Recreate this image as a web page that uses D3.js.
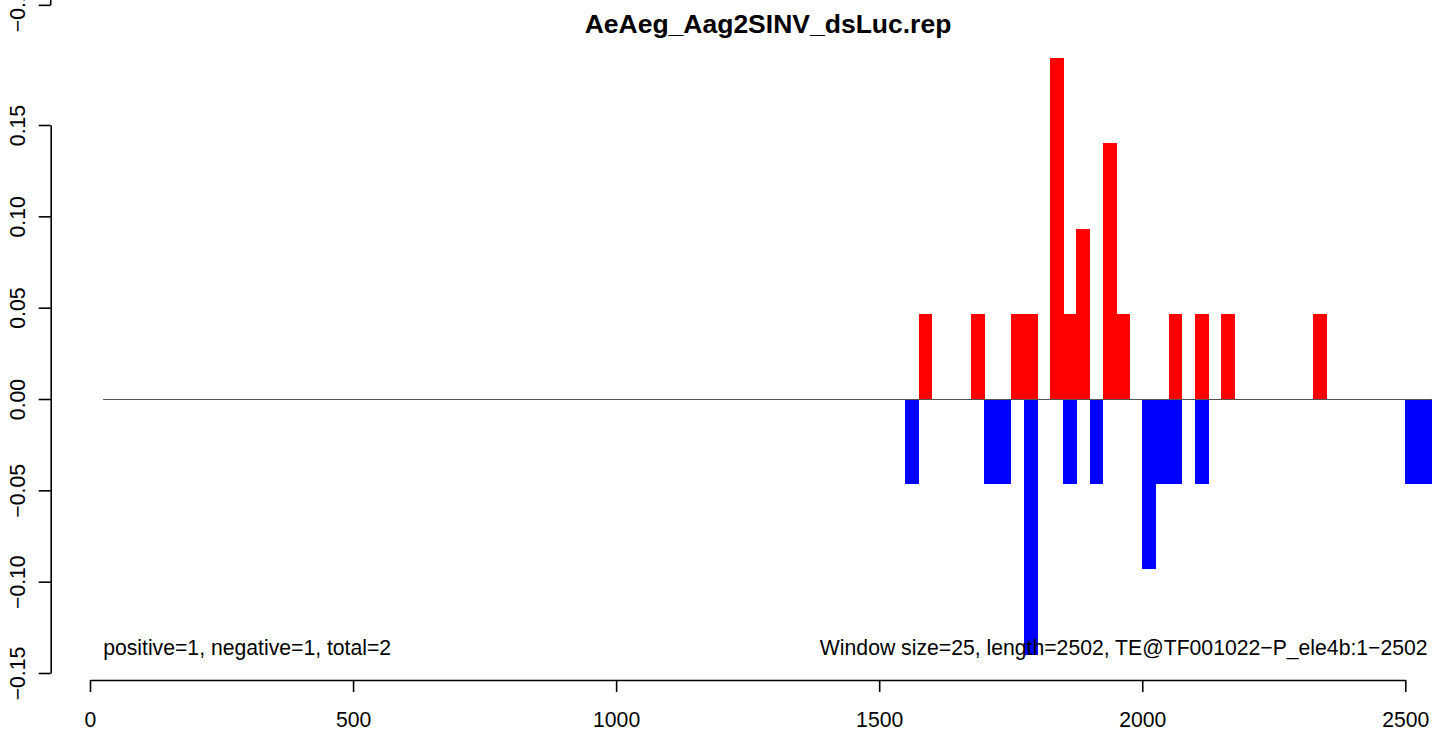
<!DOCTYPE html>
<html>
<head>
<meta charset="utf-8">
<script src="https://cdn.jsdelivr.net/npm/d3@7"></script>
<style>
  html, body { margin: 0; padding: 0; background: #fff; }
  svg { display: block; font-family: "Liberation Sans", Arial, Helvetica, sans-serif; }
</style>
</head>
<body>
<svg id="chart" width="1441" height="730"></svg>
<script>
// ---- data ----
const titleText = "AeAeg_Aag2SINV_dsLuc.rep";
const windowSize = 25;
const positiveStarts = [1575, 1675, 1750, 1775, 1825, 1850, 1875, 1925, 1950, 2050, 2100, 2150, 2325];
const positiveValues = [0.0467, 0.0467, 0.0467, 0.0467, 0.1867, 0.0467, 0.0933, 0.14, 0.0467, 0.0467, 0.0467, 0.0467, 0.0467];
const negativeStarts = [1550, 1700, 1725, 1775, 1850, 1900, 2000, 2025, 2050, 2100, 2500, 2525];
const negativeValues = [-0.0467, -0.0467, -0.0467, -0.14, -0.0467, -0.0467, -0.0933, -0.0467, -0.0467, -0.0467, -0.0467, -0.0467];
const baselineRange = [25, 2550];
const xTickValues = [0, 500, 1000, 1500, 2000, 2500];
const yTickValues = [-0.15, -0.10, -0.05, 0.00, 0.05, 0.10, 0.15];
const yTickLabels = ["\u22120.15", "\u22120.10", "\u22120.05", "0.00", "0.05", "0.10", "0.15"];
const extraYTickValues = [0.2155];
const extraYTickLabels = ["\u22120.15"];
const leftNote = "positive=1, negative=1, total=2";
const rightNote = "Window size=25, length=2502, TE@TF001022\u2212P_ele4b:1\u22122502";

// ---- drawing ----
const svg = d3.select("#chart");
const x = d3.scaleLinear().domain([0, 2500]).range([90, 1405.3]);
const y = d3.scaleLinear().domain([-0.15, 0.15]).range([673, 125]);
const fontSize = 21.2;

svg.append("rect").attr("width", 1441).attr("height", 730).attr("fill", "#fff");

// bars
const pos = positiveStarts.map((s, i) => ({ s, v: positiveValues[i] }));
const neg = negativeStarts.map((s, i) => ({ s, v: negativeValues[i] }));

svg.append("g").attr("shape-rendering", "crispEdges").selectAll("rect").data(pos).join("rect")
  .attr("x", d => x(d.s))
  .attr("width", d => x(d.s + windowSize) - x(d.s) + 0.6)
  .attr("y", d => y(d.v))
  .attr("height", d => y(0) - y(d.v))
  .attr("fill", "#ff0000");

svg.append("g").attr("shape-rendering", "crispEdges").selectAll("rect").data(neg).join("rect")
  .attr("x", d => x(d.s))
  .attr("width", d => x(d.s + windowSize) - x(d.s) + 0.6)
  .attr("y", y(0))
  .attr("height", d => y(d.v) - y(0))
  .attr("fill", "#0000ff");

// baseline
svg.append("line")
  .attr("x1", x(baselineRange[0])).attr("x2", x(baselineRange[1]))
  .attr("y1", y(0) + 0.5).attr("y2", y(0) + 0.5)
  .attr("stroke", "#555").attr("stroke-width", 1);

// x axis
const xAxis = d3.axisBottom(x).tickValues(xTickValues).tickFormat(d3.format("d"))
  .tickSizeOuter(0).tickSizeInner(12).tickPadding(20);
const gx = svg.append("g").attr("transform", "translate(0,680)").call(xAxis);
gx.select(".domain").attr("stroke", "#000").attr("stroke-width", 1.6);
gx.selectAll(".tick line").attr("stroke", "#000").attr("stroke-width", 1.6);
gx.selectAll(".tick text").attr("font-size", fontSize).attr("fill", "#000")
  .attr("font-family", "Liberation Sans, Arial, sans-serif");

// y axis
const yAxis = d3.axisLeft(y).tickValues(yTickValues)
  .tickFormat((d, i) => yTickLabels[i]).tickSizeOuter(0).tickSizeInner(12);
const gy = svg.append("g").attr("transform", "translate(50.7,0)").call(yAxis);
gy.select(".domain").attr("stroke", "#000").attr("stroke-width", 1.6);
gy.selectAll(".tick line").attr("stroke", "#000").attr("stroke-width", 1.6);
gy.selectAll(".tick text")
  .attr("font-size", fontSize).attr("fill", "#000")
  .attr("font-family", "Liberation Sans, Arial, sans-serif")
  .attr("text-anchor", "middle").attr("dy", null)
  .attr("x", null)
  .attr("transform", "translate(-26,0) rotate(-90)");

// extra partial tick at top edge
const gy2 = svg.append("g").attr("transform", "translate(50.7,0)");
gy2.selectAll("line.t").data(extraYTickValues).join("line")
  .attr("x1", -12).attr("x2", 0).attr("y1", d => y(d)).attr("y2", d => y(d))
  .attr("stroke", "#000").attr("stroke-width", 1.6);
gy2.selectAll("line.v").data(extraYTickValues).join("line")
  .attr("x1", 0).attr("x2", 0).attr("y1", d => y(d)).attr("y2", d => y(d + 0.01))
  .attr("stroke", "#000").attr("stroke-width", 1.6);
gy2.selectAll("text").data(extraYTickValues).join("text")
  .attr("transform", d => `translate(-26,${y(d)}) rotate(-90)`)
  .attr("text-anchor", "middle").attr("font-size", fontSize).attr("fill", "#000")
  .text((d, i) => extraYTickLabels[i]);

// notes
svg.append("text").attr("x", x(25)).attr("y", 655)
  .attr("font-size", fontSize).attr("fill", "#000").text(leftNote);
svg.append("text").attr("x", x(2550) - 4).attr("y", 655).attr("text-anchor", "end")
  .attr("font-size", fontSize).attr("fill", "#000").text(rightNote);

// title
svg.append("text").attr("x", 768).attr("y", 32.7).attr("text-anchor", "middle")
  .attr("font-size", 26.5).attr("font-weight", "bold").attr("fill", "#000").text(titleText);
</script>
</body>
</html>
